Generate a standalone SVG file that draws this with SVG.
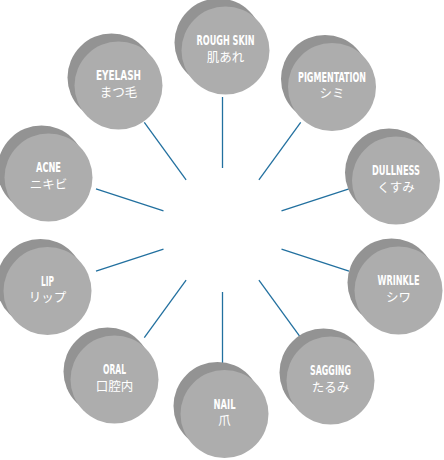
<svg xmlns="http://www.w3.org/2000/svg" width="444" height="460" viewBox="0 0 444 460">
<style>
.bk{fill:#939393}
.fr{fill:#adadad}
.en{font-family:"DejaVu Sans Condensed","Liberation Sans",sans-serif;font-weight:bold;font-size:13.5px;fill:#fff;text-anchor:middle}
.jp{font-family:"Noto Sans CJK JP",sans-serif;font-size:12.5px;fill:#fff;text-anchor:middle}
.ln{stroke:#22709f;stroke-width:1.3;fill:none}
</style>
<g id="connectors" class="ln">
<line x1="222.5" y1="168" x2="222.5" y2="97"/>
<line x1="258.9" y1="179.8" x2="300.7" y2="122.4"/>
<line x1="281.5" y1="210.8" x2="349" y2="188.9"/>
<line x1="281.5" y1="249.2" x2="349" y2="271.1"/>
<line x1="258.9" y1="280.2" x2="300.7" y2="337.6"/>
<line x1="222.5" y1="292" x2="222.5" y2="363"/>
<line x1="186.1" y1="280.2" x2="144.3" y2="337.6"/>
<line x1="163.5" y1="249.2" x2="96" y2="271.1"/>
<line x1="163.5" y1="210.8" x2="96" y2="188.9"/>
<line x1="186.1" y1="179.8" x2="144.3" y2="122.4"/>
</g>
<g id="rough-skin" transform="translate(225.5,50.5)"><circle class="bk" cx="-7" cy="-8" r="44"/><circle class="fr" r="44"/><text class="en" y="-5.5" textLength="58" lengthAdjust="spacingAndGlyphs">ROUGH SKIN</text><text class="jp" y="11">肌あれ</text></g>
<g id="pigmentation" transform="translate(332,87)"><circle class="bk" cx="-7" cy="-8" r="44"/><circle class="fr" r="44"/><text class="en" y="-5.5" textLength="68" lengthAdjust="spacingAndGlyphs">PIGMENTATION</text><text class="jp" y="11">シミ</text></g>
<g id="dullness" transform="translate(396,180.5)"><circle class="bk" cx="-7" cy="-8" r="44"/><circle class="fr" r="44"/><text class="en" y="-5.5" textLength="48" lengthAdjust="spacingAndGlyphs">DULLNESS</text><text class="jp" y="11">くすみ</text></g>
<g id="wrinkle" transform="translate(398.5,290.5)"><circle class="bk" cx="-7" cy="-8" r="44"/><circle class="fr" r="44"/><text class="en" y="-5.5" textLength="42" lengthAdjust="spacingAndGlyphs">WRINKLE</text><text class="jp" y="11">シワ</text></g>
<g id="sagging" transform="translate(330.5,380.5)"><circle class="bk" cx="-7" cy="-8" r="44"/><circle class="fr" r="44"/><text class="en" y="-5.5" textLength="41" lengthAdjust="spacingAndGlyphs">SAGGING</text><text class="jp" y="11">たるみ</text></g>
<g id="nail" transform="translate(224.5,414)"><circle class="bk" cx="-7" cy="-8" r="44"/><circle class="fr" r="44"/><text class="en" y="-5.5" textLength="22" lengthAdjust="spacingAndGlyphs">NAIL</text><text class="jp" y="11">爪</text></g>
<g id="oral" transform="translate(114.5,379.5)"><circle class="bk" cx="-7" cy="-8" r="44"/><circle class="fr" r="44"/><text class="en" y="-5.5" textLength="23" lengthAdjust="spacingAndGlyphs">ORAL</text><text class="jp" y="11">口腔内</text></g>
<g id="lip" transform="translate(47.5,291)"><circle class="bk" cx="-7" cy="-8" r="44"/><circle class="fr" r="44"/><text class="en" y="-5.5" textLength="13" lengthAdjust="spacingAndGlyphs">LIP</text><text class="jp" y="11">リップ</text></g>
<g id="acne" transform="translate(48.5,177.5)"><circle class="bk" cx="-7" cy="-8" r="44"/><circle class="fr" r="44"/><text class="en" y="-5.5" textLength="25" lengthAdjust="spacingAndGlyphs">ACNE</text><text class="jp" y="11">ニキビ</text></g>
<g id="eyelash" transform="translate(118.5,85.5)"><circle class="bk" cx="-7" cy="-8" r="44"/><circle class="fr" r="44"/><text class="en" y="-5.5" textLength="45" lengthAdjust="spacingAndGlyphs">EYELASH</text><text class="jp" y="11">まつ毛</text></g>
</svg>
